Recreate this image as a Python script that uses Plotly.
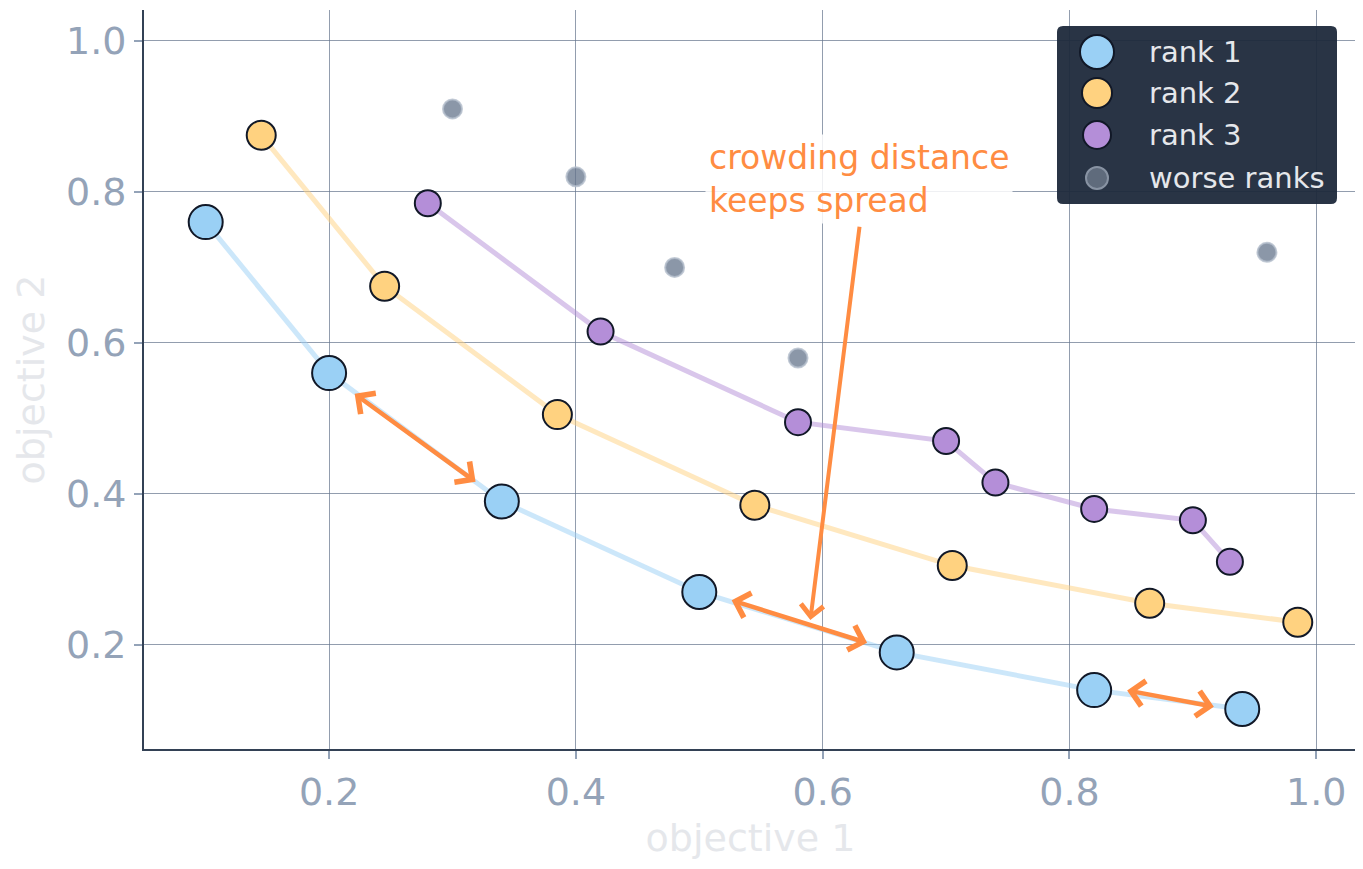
import plotly.graph_objects as go


# rank 1 front
rank1_x = [0.10, 0.20, 0.34, 0.50, 0.66, 0.82, 0.94]
rank1_y = [0.76, 0.56, 0.39, 0.27, 0.19, 0.14, 0.115]

# rank 2 front
rank2_x = [0.145, 0.245, 0.385, 0.545, 0.705, 0.865, 0.985]
rank2_y = [0.875, 0.675, 0.505, 0.385, 0.305, 0.255, 0.23]

# rank 3 front
rank3_x = [0.28, 0.42, 0.58, 0.70, 0.74, 0.82, 0.90, 0.93]
rank3_y = [0.785, 0.615, 0.495, 0.47, 0.415, 0.38, 0.365, 0.31]

# worse ranks
worse_x = [0.30, 0.40, 0.48, 0.58, 0.96]
worse_y = [0.91, 0.82, 0.70, 0.58, 0.72]

# crowding distance arrows: (x_start, y_start, x_end, y_end)
spread_arrows = [
    (0.2195, 0.534, 0.3187, 0.416),
    (0.525, 0.2596, 0.636, 0.2026),
    (0.8455, 0.140, 0.917, 0.118),
]
note_text = "crowding distance<br>keeps spread"
note_arrow = (0.630, 0.756, 0.590, 0.233)

x_ticks = [0.2, 0.4, 0.6, 0.8, 1.0]
y_ticks = [0.2, 0.4, 0.6, 0.8, 1.0]

legend_names = ["rank 1", "rank 2", "rank 3", "worse ranks"]

FONT = "DejaVu Sans"
ORANGE = "#ff8c42"
EDGE = "#111827"

# plot area in pixels, used to place the hand drawn legend
PX_L, PX_R, PX_T, PX_B = 143, 1356, 10, 749


def paper_x(px):
    return (px - PX_L) / (PX_R - PX_L)


def paper_y(py):
    return (PX_B - py) / (PX_B - PX_T)


styles = [
    # fill, line, marker size, marker edge, legend diameter
    ("#9ad0f5", "rgba(154,208,245,0.5)", 34, EDGE, 34),
    ("#ffd280", "rgba(255,210,128,0.5)", 29, EDGE, 30),
    ("#b48ed8", "rgba(180,142,216,0.5)", 26, EDGE, 28),
]

fig = go.Figure()

for name, xs, ys, (fill, line, size, edge, _) in zip(
        legend_names[:3],
        [rank1_x, rank2_x, rank3_x],
        [rank1_y, rank2_y, rank3_y],
        styles):
    fig.add_trace(go.Scatter(
        x=xs, y=ys, mode="lines", line=dict(color=line, width=5),
        showlegend=False, hoverinfo="skip",
    ))
    fig.add_trace(go.Scatter(
        x=xs, y=ys, mode="markers", name=name, showlegend=False,
        marker=dict(color=fill, size=size, line=dict(color=edge, width=2)),
    ))

WORSE_FILL = "rgba(100,116,139,0.75)"
WORSE_EDGE = "rgba(180,190,204,0.8)"
fig.add_trace(go.Scatter(
    x=worse_x, y=worse_y, mode="markers", name=legend_names[3],
    showlegend=False,
    marker=dict(color=WORSE_FILL, size=19,
                line=dict(color=WORSE_EDGE, width=2)),
))

for x0, y0, x1, y1 in spread_arrows:
    fig.add_annotation(
        x=x1, y=y1, ax=x0, ay=y0, xref="x", yref="y", axref="x", ayref="y",
        text="", showarrow=True, arrowhead=4, startarrowhead=4,
        arrowside="end+start", arrowwidth=4.5, arrowsize=1.1,
        startarrowsize=1.1, arrowcolor=ORANGE, standoff=0, startstandoff=0,
    )

fig.add_annotation(
    x=note_arrow[2], y=note_arrow[3], ax=note_arrow[0], ay=note_arrow[1],
    xref="x", yref="y", axref="x", ayref="y",
    text="", showarrow=True, arrowhead=4, arrowwidth=4, arrowsize=1.1,
    arrowcolor=ORANGE, standoff=0,
)
fig.add_annotation(
    x=0.505, y=0.877, xref="x", yref="y", text=note_text, showarrow=False,
    xanchor="left", yanchor="top", align="left",
    font=dict(family=FONT, size=33, color=ORANGE),
    bgcolor="rgba(255,255,255,0.85)", borderpad=3,
)

# legend box with rounded corners
bx0, bx1 = paper_x(1056), paper_x(1336)
by0, by1 = paper_y(204), paper_y(26)
rx, ry = 6 / (PX_R - PX_L), 6 / (PX_B - PX_T)
box_path = (
    f"M {bx0 + rx},{by0} L {bx1 - rx},{by0} Q {bx1},{by0} {bx1},{by0 + ry} "
    f"L {bx1},{by1 - ry} Q {bx1},{by1} {bx1 - rx},{by1} "
    f"L {bx0 + rx},{by1} Q {bx0},{by1} {bx0},{by1 - ry} "
    f"L {bx0},{by0 + ry} Q {bx0},{by0} {bx0 + rx},{by0} Z"
)
fig.add_shape(type="path", path=box_path, xref="paper", yref="paper",
              fillcolor="rgba(30,41,59,0.95)", line=dict(width=0))

legend_rows = [52, 93, 135, 178]
legend_marks = [(s[0], s[3], s[4]) for s in styles] + [
    ("#5f6b7c", "#8893a3", 22)]
for name, row, (fill, edge, dia) in zip(legend_names, legend_rows,
                                        legend_marks):
    r = dia / 2
    fig.add_shape(
        type="circle", xref="paper", yref="paper",
        xsizemode="pixel", ysizemode="pixel",
        xanchor=paper_x(1096), yanchor=paper_y(row),
        x0=-r, x1=r, y0=-r, y1=r,
        fillcolor=fill, line=dict(color=edge, width=2),
    )
    fig.add_annotation(
        x=paper_x(1146), y=paper_y(row), xref="paper", yref="paper",
        text=name, showarrow=False, xanchor="left", yanchor="middle",
        font=dict(family=FONT, size=29, color="#e5e7eb"),
    )

axis_style = dict(
    showgrid=True, gridcolor="rgba(100,116,139,0.7)", gridwidth=1,
    showline=True, linecolor="#334155", linewidth=2,
    ticks="outside", ticklen=8, tickwidth=1.5, tickcolor="#94a3b8",
    tickfont=dict(family=FONT, size=38, color="#94a3b8"),
    tickformat=".1f", zeroline=False, mirror=False,
)

fig.update_xaxes(
    axis_style, range=[0.05, 1.033], tickvals=x_ticks,
    title=dict(text="objective 1", standoff=12,
               font=dict(family=FONT, size=38, color="#e5e7eb")),
)
fig.update_yaxes(
    axis_style, range=[0.062, 1.041], tickvals=y_ticks,
    title=dict(text="objective 2", standoff=10,
               font=dict(family=FONT, size=38, color="#e5e7eb")),
)

fig.update_layout(
    width=1363, height=869,
    margin=dict(l=136, r=14, t=2, b=128),
    paper_bgcolor="white", plot_bgcolor="white",
    font=dict(family=FONT),
    showlegend=False,
)

fig.write_html("out.html")
